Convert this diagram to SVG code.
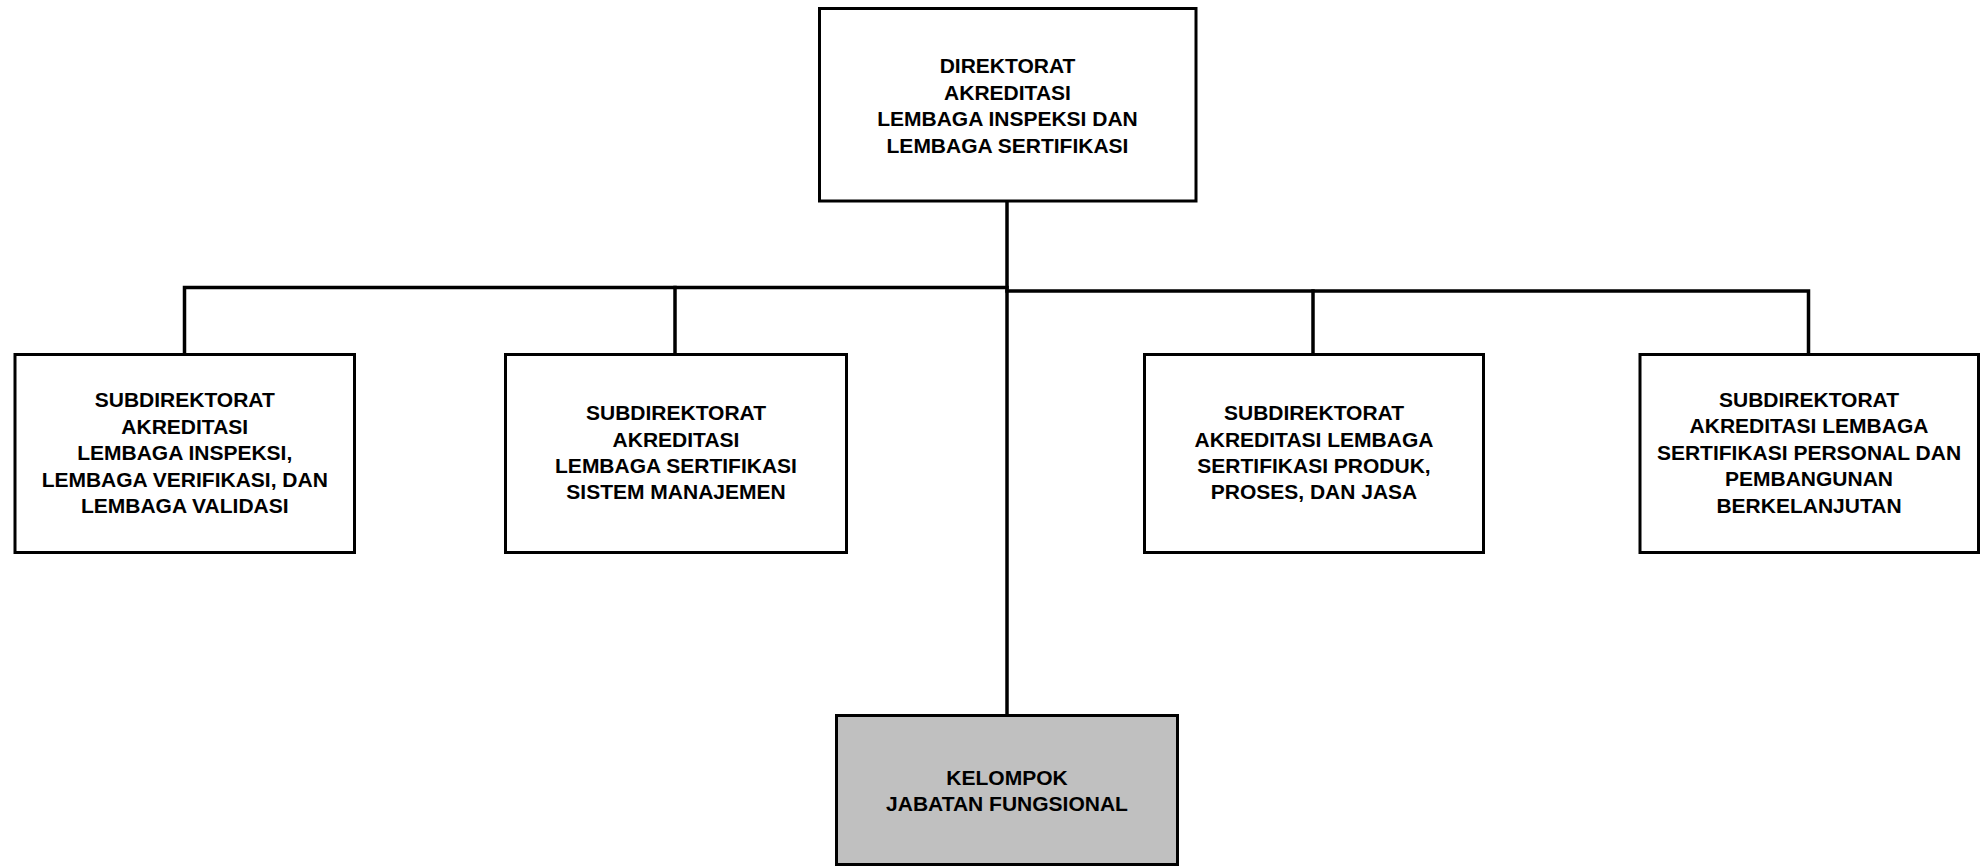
<svg xmlns="http://www.w3.org/2000/svg" width="1981" height="866" viewBox="0 0 1981 866">
<style>
.box{fill:#ffffff;stroke:#000000;stroke-width:3}
.grey{fill:#c0c0c0;stroke:#000000;stroke-width:3}
.lbl{font-family:"Liberation Sans",Arial,sans-serif;font-weight:bold;font-size:21px;fill:#000000;text-anchor:middle}
.con{fill:none;stroke:#000000;stroke-width:3.5;stroke-linecap:square}
</style>
<rect x="0" y="0" width="1981" height="866" fill="#ffffff"/>
<g id="connectors">
<line class="con" x1="1007" y1="201" x2="1007" y2="714"/>
<polyline class="con" points="184.5,354 184.5,287.5 1007,287.5"/>
<line class="con" x1="675" y1="287.5" x2="675" y2="354"/>
<polyline class="con" points="1007,291 1808.5,291 1808.5,354"/>
<line class="con" x1="1313" y1="291" x2="1313" y2="354"/>
</g>
<g id="direktorat">
<rect class="box" x="819.5" y="8.5" width="376.5" height="192.5"/>
<text class="lbl" x="1007.5" y="73">DIREKTORAT</text>
<text class="lbl" x="1007.5" y="99.5">AKREDITASI</text>
<text class="lbl" x="1007.5" y="126">LEMBAGA INSPEKSI DAN</text>
<text class="lbl" x="1007.5" y="152.5">LEMBAGA SERTIFIKASI</text>
</g>
<g id="subdit-inspeksi">
<rect class="box" x="15" y="354.5" width="339.5" height="198"/>
<text class="lbl" x="184.75" y="407">SUBDIREKTORAT</text>
<text class="lbl" x="184.75" y="433.5">AKREDITASI</text>
<text class="lbl" x="184.75" y="460">LEMBAGA INSPEKSI,</text>
<text class="lbl" x="184.75" y="486.5">LEMBAGA VERIFIKASI, DAN</text>
<text class="lbl" x="184.75" y="513">LEMBAGA VALIDASI</text>
</g>
<g id="subdit-sistem">
<rect class="box" x="505.5" y="354.5" width="341" height="198"/>
<text class="lbl" x="676" y="420">SUBDIREKTORAT</text>
<text class="lbl" x="676" y="446.5">AKREDITASI</text>
<text class="lbl" x="676" y="472.5">LEMBAGA SERTIFIKASI</text>
<text class="lbl" x="676" y="499">SISTEM MANAJEMEN</text>
</g>
<g id="subdit-produk">
<rect class="box" x="1144.5" y="354.5" width="339" height="198"/>
<text class="lbl" x="1314" y="420">SUBDIREKTORAT</text>
<text class="lbl" x="1314" y="446.5">AKREDITASI LEMBAGA</text>
<text class="lbl" x="1314" y="472.5">SERTIFIKASI PRODUK,</text>
<text class="lbl" x="1314" y="499">PROSES, DAN JASA</text>
</g>
<g id="subdit-personal">
<rect class="box" x="1640" y="354.5" width="338.5" height="198"/>
<text class="lbl" x="1809" y="406.5">SUBDIREKTORAT</text>
<text class="lbl" x="1809" y="433">AKREDITASI LEMBAGA</text>
<text class="lbl" x="1809" y="459.5">SERTIFIKASI PERSONAL DAN</text>
<text class="lbl" x="1809" y="486">PEMBANGUNAN</text>
<text class="lbl" x="1809" y="512.5">BERKELANJUTAN</text>
</g>
<g id="jabatan-fungsional">
<rect class="grey" x="836.5" y="715.5" width="341" height="149"/>
<text class="lbl" x="1007" y="785">KELOMPOK</text>
<text class="lbl" x="1007" y="810.5">JABATAN FUNGSIONAL</text>
</g>
</svg>
